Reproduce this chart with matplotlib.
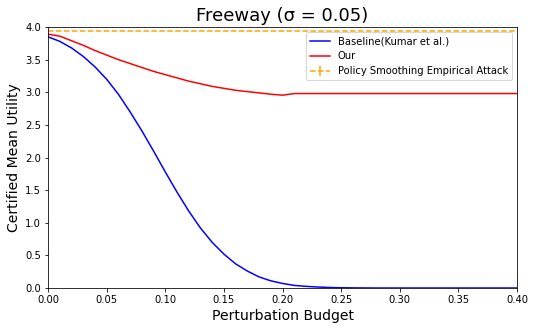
import numpy as np
import matplotlib
matplotlib.use("Agg")
import matplotlib.pyplot as plt

# perturbation budgets
eps = np.round(np.arange(0, 0.401, 0.01), 2)

baseline = [3.85, 3.78, 3.68, 3.55, 3.39, 3.20, 2.97, 2.70, 2.41, 2.10,
            1.78, 1.47, 1.18, 0.92, 0.70, 0.52, 0.37, 0.26, 0.17, 0.11,
            0.07, 0.04, 0.025, 0.015, 0.008, 0.004, 0.002, 0.001, 0.0, 0.0,
            0.0, 0.0, 0.0, 0.0, 0.0, 0.0, 0.0, 0.0, 0.0, 0.0, 0.0]

ours = [3.89, 3.86, 3.79, 3.72, 3.64, 3.57, 3.50, 3.44, 3.38, 3.32,
        3.27, 3.22, 3.17, 3.13, 3.09, 3.06, 3.03, 3.01, 2.99, 2.97,
        2.955] + [2.98] * 20

attack = [3.94] * len(eps)
attack_err = [0.0] * len(eps)

fig = plt.figure(figsize=(535 / 72, 330 / 72), dpi=72)
ax = fig.add_axes([48 / 535, 42 / 330, 469 / 535, 261 / 330])

ax.plot(eps, baseline, color='blue', label='Baseline(Kumar et al.)')
ax.plot(eps, ours, color='red', label='Our')
ax.errorbar(eps, attack, yerr=attack_err, color='orange', linestyle='--',
            label='Policy Smoothing Empirical Attack')

ax.set_xlim(0, 0.4)
ax.set_ylim(0, 4)
ax.set_xticks(np.arange(0, 0.41, 0.05))
ax.set_yticks(np.arange(0, 4.01, 0.5))
ax.tick_params(labelsize=10)
ax.set_xlabel('Perturbation Budget', fontsize=14)
ax.set_ylabel('Certified Mean Utility', fontsize=14)
ax.set_title('Freeway (σ = 0.05)', fontsize=18)
ax.legend(loc='upper right', fontsize=10)

fig.savefig('out.png', dpi=72)
